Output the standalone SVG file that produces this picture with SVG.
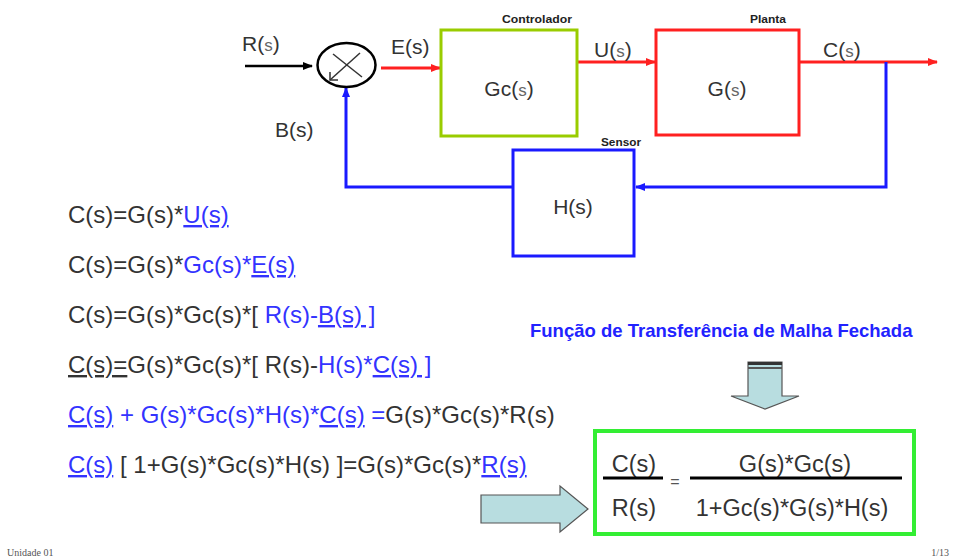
<svg xmlns="http://www.w3.org/2000/svg" width="956" height="559" viewBox="0 0 956 559">
<defs>
<marker id="ah-black" markerWidth="10" markerHeight="8" refX="9" refY="4" orient="auto" markerUnits="userSpaceOnUse"><path d="M0,0 L10,4 L0,8 z" fill="#000"/></marker>
<marker id="ah-red" markerWidth="10" markerHeight="8" refX="9" refY="4" orient="auto" markerUnits="userSpaceOnUse"><path d="M0,0 L10,4 L0,8 z" fill="#ff2020"/></marker>
<marker id="ah-blue" markerWidth="10" markerHeight="8" refX="9" refY="4" orient="auto" markerUnits="userSpaceOnUse"><path d="M0,0 L10,4 L0,8 z" fill="#1a1aff"/></marker>
</defs>
<style>
text{font-family:"Liberation Sans",Arial,sans-serif;}
.lbl{font-size:21px;fill:#333;}
.sm{font-size:17px;fill:#666;}
.tiny{font-size:10px;font-weight:bold;fill:#222;}
.eq{font-size:24px;fill:#333;}
.res{font-size:23.5px;fill:#333;}
.b{fill:#3333ff;}
.u{text-decoration:underline;}
.foot{font-family:"Liberation Serif",serif;font-size:10px;fill:#555;}
</style>
<rect width="956" height="559" fill="#fff"/>

<g id="connectors" fill="none">
<line x1="245" y1="66" x2="312" y2="66" stroke="#000" stroke-width="2.5" marker-end="url(#ah-black)"/>
<line x1="381" y1="68" x2="440" y2="68" stroke="#ff2020" stroke-width="3" marker-end="url(#ah-red)"/>
<line x1="577" y1="62" x2="655" y2="62" stroke="#ff2020" stroke-width="3" marker-end="url(#ah-red)"/>
<line x1="800" y1="62" x2="937" y2="62" stroke="#ff2020" stroke-width="3" marker-end="url(#ah-red)"/>
<polyline points="886,62 886,187 636,187" stroke="#1a1aff" stroke-width="3" marker-end="url(#ah-blue)"/>
<polyline points="512,187 346,187 346,88" stroke="#1a1aff" stroke-width="3" marker-end="url(#ah-blue)"/>
</g>

<g id="sum">
<ellipse cx="346.5" cy="65" rx="29" ry="22" fill="#fff" stroke="#000" stroke-width="2.5"/>
<line x1="333" y1="54" x2="362" y2="77" stroke="#333" stroke-width="1.5"/>
<line x1="360" y1="53" x2="330" y2="80" stroke="#333" stroke-width="1.5"/>
<path d="M330,72 L330,80 L338,80" fill="none" stroke="#333" stroke-width="1.5"/>
</g>

<g id="labels">
<text x="242" y="51" class="lbl">R(<tspan class="sm">s</tspan>)</text>
<text x="391" y="54" class="lbl">E(s)</text>
<text x="594" y="57" class="lbl">U(<tspan class="sm">s</tspan>)</text>
<text x="823" y="57" class="lbl">C(<tspan class="sm">s</tspan>)</text>
<text x="275" y="137" class="lbl">B(s)</text>
</g>

<g id="controlador">
<rect x="441" y="30" width="136" height="106" fill="#fff" stroke="#99cc00" stroke-width="3"/>
<text x="509" y="96" class="lbl" text-anchor="middle">Gc(<tspan class="sm">s</tspan>)</text>
<text x="502" y="23" class="tiny" textLength="70" lengthAdjust="spacingAndGlyphs">Controlador</text>
</g>

<g id="planta">
<rect x="656" y="30" width="143" height="105" fill="#fff" stroke="#ff2020" stroke-width="3"/>
<text x="727" y="96" class="lbl" text-anchor="middle">G(<tspan class="sm">s</tspan>)</text>
<text x="750" y="23" class="tiny" textLength="36" lengthAdjust="spacingAndGlyphs">Planta</text>
</g>

<g id="sensor">
<rect x="513" y="150" width="121" height="106" fill="#fff" stroke="#1a1aff" stroke-width="3"/>
<text x="573" y="214" class="lbl" text-anchor="middle">H(s)</text>
<text x="601" y="146" class="tiny" textLength="40" lengthAdjust="spacingAndGlyphs">Sensor</text>
</g>

<g id="equations" class="eq">
<text x="68" y="223">C(s)=G(s)*<tspan class="b u">U(s)</tspan></text>
<text x="68" y="273">C(s)=G(s)*<tspan class="b">Gc(s)*</tspan><tspan class="b u">E(s)</tspan></text>
<text x="68" y="323">C(s)=G(s)*Gc(s)*[ <tspan class="b">R(s)-</tspan><tspan class="b u">B(s) ]</tspan></text>
<text x="68" y="373"><tspan class="u">C(s)=</tspan>G(s)*Gc(s)*[ R(s)-<tspan class="b">H(s)*</tspan><tspan class="b u">C(s) ]</tspan></text>
<text x="68" y="423"><tspan class="b u">C(s)</tspan><tspan class="b"> + G(s)*Gc(s)*H(s)*</tspan><tspan class="b u">C(s)</tspan> <tspan class="b">=</tspan>G(s)*Gc(s)*R(s)</text>
<text x="68" y="473"><tspan class="b u">C(s)</tspan> [ 1+G(s)*Gc(s)*H(s) ]=G(s)*Gc(s)*<tspan class="b u">R(s)</tspan></text>
</g>

<g id="title">
<text x="530" y="337" font-size="18.5" font-weight="bold" fill="#2222ff">Função de Transferência de Malha Fechada</text>
</g>

<g id="down-arrow">
<path d="M748,362 L782,362 L782,396 L799,396 L765,409 L731,396 L748,396 Z" fill="#b8dde0" stroke="#555" stroke-width="1.2"/>
<rect x="748" y="362" width="34" height="3" fill="#333"/>
<rect x="748" y="367" width="34" height="2" fill="#555"/>
</g>

<g id="right-arrow">
<path d="M481,495 L560,495 L560,486 L588,509 L560,532 L560,523 L481,523 Z" fill="#b8dde0" stroke="#555" stroke-width="1.2"/>
</g>

<g id="result">
<rect x="595" y="431" width="319" height="103" fill="#fff" stroke="#33ee33" stroke-width="4"/>
<text x="634" y="472" class="res" text-anchor="middle">C(s)</text>
<line x1="603" y1="478" x2="663" y2="478" stroke="#000" stroke-width="3"/>
<text x="675" y="487" font-size="16" fill="#555" text-anchor="middle">=</text>
<text x="795" y="472" class="res" text-anchor="middle">G(s)*Gc(s)</text>
<line x1="690" y1="478" x2="902" y2="478" stroke="#000" stroke-width="3"/>
<text x="634" y="516" class="res" text-anchor="middle">R(s)</text>
<text x="792" y="516" class="res" text-anchor="middle">1+Gc(s)*G(s)*H(s)</text>
</g>

<g id="footer">
<text x="7" y="556" class="foot">Unidade 01</text>
<text x="949" y="556" class="foot" text-anchor="end">1/13</text>
</g>
</svg>
